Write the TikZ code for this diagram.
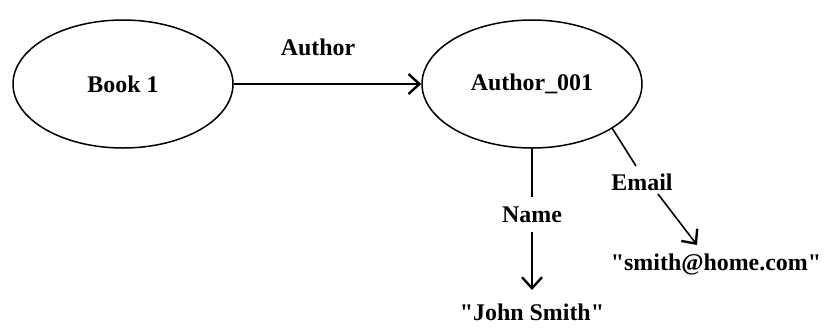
\documentclass[tikz,border=0pt]{standalone}
\usepackage{fontspec}
\newfontfamily\labfont{Liberation Serif}
\usetikzlibrary{arrows.meta,shapes.geometric}
\begin{document}
\begin{tikzpicture}[x=1bp,y=-1bp,
  res/.style={ellipse,draw,line width=1.5pt,minimum width=220bp,minimum height=128bp,inner sep=0pt,font=\labfont\bfseries\fontsize{24}{27}\selectfont},
  lbl/.style={font=\labfont\bfseries\fontsize{24}{27}\selectfont,inner sep=1pt},
  conn/.style={line width=1.6pt},
  arr/.style={conn,-{Straight Barb[length=11bp,width=20bp,line width=2.4pt]}}]
\useasboundingbox (0,0) rectangle (830,327);
\node[res] (book) at (123,84) {Book 1};
\node[res] (auth) at (532,84) {Author\_001};
\node[lbl] (authlbl) at (318,47) {Author};
\draw[arr] (book) -- (auth);
\node[lbl] (name) at (532,215) {Name};
\node[lbl] (john) at (532,312) {"John Smith"};
\node[lbl] (email) at (642,182) {Email};
\node[lbl] (smith) at (716,264) {"smith@home.com"};
\coordinate (ea) at (612,128);
\coordinate (eb) at (636,166);
\coordinate (ec) at (658,194);
\coordinate (ed) at (697,245);
\coordinate (na) at (532,148);
\coordinate (nb) at (532,197);
\coordinate (nc) at (532,232);
\coordinate (nd) at (532,290);
\draw[conn] (na) -- (nb);
\draw[arr] (nc) -- (nd);
\draw[conn] (ea) -- (eb);
\draw[arr] (ec) -- (ed);
\end{tikzpicture}
\end{document}
